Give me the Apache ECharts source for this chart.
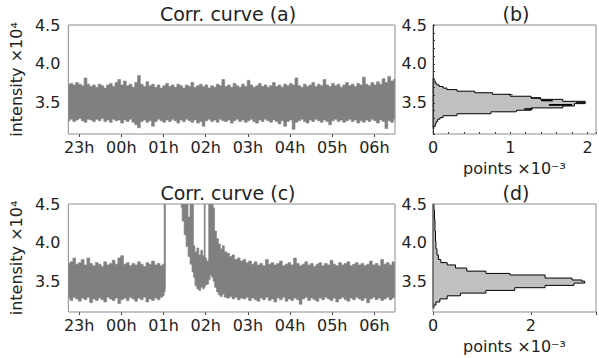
<!DOCTYPE html>
<html><head><meta charset="utf-8">
<script src="https://cdn.jsdelivr.net/npm/echarts@6.0.0/dist/echarts.min.js"></script>
<style>html,body{margin:0;padding:0;background:#fff}#c{width:599px;height:358px}</style>
</head><body><div id="c"></div>
<script>
// ---- data (time in minutes after 22:00) ----
const hourTicks = [60,120,180,240,300,360,420,480];
const yTicks = [3.5,4.0,4.5];

// (a) envelope of the dense curve
const aTime = [45,49,53,57,61,65,69,73,77,81,85,89,93,97,101,105,109,113,117,121,125,129,133,137,141,145,149,153,157,161,165,169,173,177,181,185,189,193,197,201,205,209,213,217,221,225,229,233,237,241,245,249,253,257,261,265,269,273,277,281,285,289,293,297,301,305,309,313,317,321,325,329,333,337,341,345,349,353,357,361,365,369,373,377,381,385,389,393,397,401,405,409,413,417,421,425,429,433,437,441,445,449,453,457,461,465,469,473,477,481,485,489,493,497,501,505,509];
const aHi = [3.74,3.75,3.73,3.76,3.74,3.72,3.82,3.74,3.71,3.73,3.70,3.74,3.72,3.69,3.73,3.75,3.71,3.76,3.80,3.73,3.78,3.72,3.74,3.70,3.76,3.85,3.74,3.71,3.77,3.72,3.74,3.70,3.73,3.69,3.72,3.75,3.71,3.73,3.70,3.74,3.72,3.69,3.73,3.71,3.76,3.70,3.72,3.74,3.71,3.73,3.69,3.72,3.70,3.74,3.72,3.80,3.71,3.73,3.70,3.75,3.72,3.70,3.74,3.71,3.79,3.73,3.70,3.72,3.75,3.71,3.73,3.70,3.72,3.76,3.71,3.73,3.70,3.74,3.72,3.75,3.73,3.82,3.72,3.70,3.74,3.71,3.73,3.76,3.71,3.74,3.72,3.80,3.73,3.71,3.75,3.72,3.74,3.70,3.73,3.76,3.72,3.74,3.71,3.75,3.73,3.83,3.74,3.72,3.76,3.73,3.77,3.74,3.81,3.76,3.84,3.78,3.80];
const aLo = [3.27,3.29,3.26,3.28,3.30,3.27,3.25,3.29,3.28,3.26,3.29,3.27,3.30,3.26,3.28,3.25,3.29,3.27,3.28,3.24,3.28,3.26,3.29,3.25,3.22,3.18,3.26,3.28,3.25,3.27,3.20,3.26,3.29,3.27,3.25,3.28,3.26,3.29,3.27,3.24,3.28,3.26,3.29,3.27,3.25,3.28,3.24,3.26,3.20,3.27,3.29,3.26,3.28,3.25,3.29,3.27,3.26,3.28,3.24,3.27,3.29,3.26,3.28,3.25,3.27,3.29,3.26,3.24,3.28,3.26,3.29,3.27,3.25,3.28,3.26,3.23,3.27,3.20,3.26,3.28,3.16,3.25,3.27,3.29,3.26,3.24,3.28,3.26,3.29,3.27,3.25,3.28,3.26,3.22,3.27,3.29,3.26,3.28,3.25,3.27,3.29,3.26,3.28,3.24,3.27,3.25,3.28,3.26,3.29,3.27,3.24,3.28,3.26,3.17,3.27,3.25,3.29];

// (c) first stretch, up to the jump just after 01h
const c1Time = [45,49,53,57,61,65,69,73,77,81,85,89,93,97,101,105,109,113,117,121,125,129,133,137,141,145,149,153,157,161,165,169,173,177,180,181.8,182.8];
const c1Hi = [3.73,3.75,3.80,3.72,3.74,3.78,3.71,3.80,3.73,3.70,3.74,3.72,3.69,3.75,3.71,3.73,3.77,3.72,3.80,3.83,3.72,3.74,3.70,3.73,3.71,3.75,3.72,3.69,3.74,3.72,3.76,3.71,3.73,3.70,3.72,4.70,4.70];
const c1Lo = [3.28,3.25,3.29,3.27,3.24,3.28,3.26,3.29,3.22,3.27,3.25,3.28,3.26,3.23,3.29,3.27,3.25,3.28,3.21,3.26,3.28,3.25,3.29,3.27,3.24,3.28,3.26,3.29,3.23,3.27,3.25,3.28,3.26,3.29,3.31,3.36,3.40];
// (c) second stretch, from the bursts to the end
const c2Time = [205.1,207.9,210.7,213.5,216.3,219.1,221.9,223.3,226.0,228.8,231.6,234.4,237.2,238.6,240.0,242.8,245.6,247.0,249.8,251.2,254.0,256.7,259.5,262.3,265.1,268.0,272.0,276.0,279.0,283.0,287.0,291.0,
  295,299,303,307,311,315,319,323,327,331,335,339,343,347,351,355,359,363,367,371,375,379,383,387,391,395,399,403,407,411,415,419,423,427,431,435,439,443,447,451,455,459,463,467,471,475,479,483,487,491,495,499,503,507,509];
const c2Hi = [4.70,4.70,4.70,4.70,4.33,4.70,4.70,3.96,3.88,3.93,3.84,3.90,3.83,4.70,3.80,3.76,4.70,4.70,4.70,4.45,4.15,4.05,3.98,3.92,3.96,3.88,3.86,3.82,3.84,3.78,3.80,3.76,
  3.78,3.74,3.76,3.72,3.75,3.71,3.73,3.70,3.78,3.72,3.74,3.71,3.73,3.76,3.70,3.72,3.74,3.71,3.80,3.73,3.70,3.72,3.75,3.71,3.73,3.69,3.72,3.74,3.70,3.73,3.71,3.77,3.72,3.70,3.74,3.71,3.73,3.75,3.70,3.72,3.74,3.71,3.73,3.70,3.72,3.76,3.71,3.73,3.70,3.78,3.72,3.74,3.71,3.75,3.74];
const c2Lo = [4.45,4.28,4.10,3.95,3.82,3.72,3.62,3.55,3.44,3.40,3.38,3.42,3.40,3.42,3.45,3.46,3.52,3.58,3.55,3.50,3.42,3.36,3.32,3.30,3.33,3.29,3.28,3.30,3.27,3.29,3.26,3.28,
  3.27,3.29,3.25,3.28,3.26,3.24,3.28,3.26,3.29,3.25,3.27,3.23,3.28,3.26,3.29,3.24,3.27,3.25,3.28,3.26,3.20,3.27,3.29,3.25,3.28,3.26,3.24,3.28,3.26,3.29,3.27,3.25,3.28,3.23,3.27,3.29,3.26,3.24,3.28,3.26,3.29,3.27,3.25,3.28,3.22,3.27,3.29,3.26,3.28,3.25,3.27,3.29,3.26,3.28,3.30];

// histograms (intensity bin edges, counts x10^-3)
const bEdges = [3.17,3.20,3.23,3.26,3.29,3.31,3.335,3.36,3.385,3.405,3.435,3.46,3.49,3.52,3.545,3.56,3.585,3.61,3.63,3.65,3.67,3.69,3.71,3.73,3.75,3.78,3.82];
const bCounts = [0.01,0.03,0.04,0.06,0.09,0.13,0.31,0.75,1.08,1.27,1.68,1.83,1.97,1.68,1.39,1.27,1.00,0.77,0.54,0.31,0.18,0.13,0.08,0.05,0.03,0.01];
// dense (black) patches in (b): count from, count to, intensity from, intensity to
const bPatchX0 = [0.97,1.27,1.40,1.50,1.85,1.18];
const bPatchX1 = [1.03,1.40,1.55,1.80,1.97,1.29];
const bPatchY0 = [3.602,3.557,3.520,3.462,3.500,3.412];
const bPatchY1 = [3.612,3.572,3.540,3.485,3.512,3.432];

const dEdges = [3.15,3.19,3.23,3.27,3.31,3.345,3.38,3.415,3.445,3.475,3.50,3.515,3.54,3.58,3.60,3.63,3.67,3.71,3.74,3.78,3.84,3.92,4.02,4.15,4.30,4.42,4.50];
const dCounts = [0.02,0.06,0.14,0.29,0.56,1.08,1.67,2.29,2.88,3.10,3.04,2.84,2.29,1.57,1.08,0.69,0.46,0.29,0.16,0.11,0.08,0.06,0.05,0.04,0.03,0.02];

// ---- style ----
const FONT = 'DejaVu Sans';
const TXT = '#222222';
const SPINE = '#8c8c8c';
const BAND = '#808080';

const hourLabel = m => { const h = Math.round(22 + m / 60) % 24; return (h < 10 ? '0' : '') + h + 'h'; };
const lab = {fontFamily: FONT, fontSize: 16, color: TXT};

// band between lower and upper envelope, each sample held over its own time slot
function bandRender(t, hi, lo) {
  return function (params, api) {
    const n = Math.min(t.length, hi.length, lo.length);
    const L = i => i === 0 ? t[0] : (t[i - 1] + t[i]) / 2;
    const R = i => i === n - 1 ? t[n - 1] : (t[i] + t[i + 1]) / 2;
    const pts = [];
    for (let i = 0; i < n; i++) { pts.push(api.coord([L(i), hi[i]])); pts.push(api.coord([R(i), hi[i]])); }
    for (let i = n - 1; i >= 0; i--) { pts.push(api.coord([R(i), lo[i]])); pts.push(api.coord([L(i), lo[i]])); }
    return {type: 'polygon', shape: {points: pts}, style: {fill: BAND, stroke: BAND, lineWidth: 0.6}};
  };
}
function bandSeries(gi, t, hi, lo) {
  return {type: 'custom', xAxisIndex: gi, yAxisIndex: gi, data: [[t[0], lo[0]]], clip: true, z: 2, silent: true,
    renderItem: bandRender(t, hi, lo)};
}
function histPolygon(edges, counts) {
  return function (params, api) {
    const pts = [api.coord([0, edges[0]])];
    for (let i = 0; i < counts.length; i++) {
      pts.push(api.coord([counts[i], edges[i]]));
      pts.push(api.coord([counts[i], edges[i + 1]]));
    }
    pts.push(api.coord([0, edges[edges.length - 1]]));
    return {type: 'polygon', shape: {points: pts}, style: {fill: '#c0c0c0', stroke: '#000', lineWidth: 1}};
  };
}

function timeX(gi) {
  return {type: 'value', gridIndex: gi, min: 44.6, max: 509.3,
    axisLine: {show: false}, splitLine: {show: false},
    axisTick: {show: true, customValues: hourTicks, length: 3, lineStyle: {color: '#444'}},
    axisLabel: Object.assign({customValues: hourTicks, formatter: hourLabel, margin: 5}, lab)};
}
function intensY(gi, withName) {
  const o = {type: 'value', gridIndex: gi, min: 3.1, max: 4.5,
    axisLine: {show: false}, splitLine: {show: false}, axisTick: {show: false},
    axisLabel: Object.assign({customValues: yTicks, formatter: v => v.toFixed(1), margin: 8}, lab)};
  if (withName) Object.assign(o, {name: 'intensity ×10⁴', nameLocation: 'middle', nameRotate: 90, nameGap: 36, nameTextStyle: lab});
  return o;
}

const grids = [
  {left: 62, top: 25, width: 333, height: 109},
  {left: 433, top: 25, width: 170, height: 109},
  {left: 62, top: 204, width: 333, height: 108},
  {left: 433, top: 204, width: 170, height: 108}
].map(g => Object.assign(g, {show: true, z: 5, borderColor: SPINE, borderWidth: 1, backgroundColor: 'rgba(0,0,0,0)', containLabel: false}));

const option = {
  animation: false,
  backgroundColor: '#fff',
  grid: grids,
  xAxis: [
    timeX(0),
    {type: 'value', gridIndex: 1, min: 0, max: 2.11, interval: 0.2,
      axisLine: {show: false}, splitLine: {show: false},
      axisTick: {show: true, inside: true, length: 2, lineStyle: {color: '#333'}},
      axisLabel: Object.assign({formatter: v => Math.abs(v - Math.round(v)) < 1e-6 ? String(Math.round(v)) : '', margin: 5}, lab),
      name: 'points ×10⁻³', nameLocation: 'middle', nameGap: 26, nameTextStyle: lab},
    timeX(2),
    {type: 'value', gridIndex: 3, min: 0, max: 3.33, interval: 2,
      axisLine: {show: false}, splitLine: {show: false},
      axisTick: {show: true, length: 3, lineStyle: {color: '#444'}},
      axisLabel: Object.assign({formatter: v => Math.abs(v - Math.round(v)) < 1e-6 ? String(Math.round(v)) : '', margin: 5}, lab),
      name: 'points ×10⁻³', nameLocation: 'middle', nameGap: 26, nameTextStyle: lab}
  ],
  yAxis: [
    intensY(0, true),
    {type: 'value', gridIndex: 1, min: 3.1, max: 4.5, interval: 0.1, z: 6,
      axisLine: {show: true, lineStyle: {color: '#333', width: 1}}, splitLine: {show: false},
      axisTick: {show: true, inside: true, length: 2, lineStyle: {color: '#333'}},
      axisLabel: Object.assign({formatter: v => Math.abs(v * 2 - Math.round(v * 2)) < 1e-6 ? v.toFixed(1) : '', margin: 6}, lab)},
    intensY(2, true),
    Object.assign(intensY(3, false), {axisLabel: Object.assign({customValues: yTicks, formatter: v => v.toFixed(1), margin: 6}, lab)})
  ],
  graphic: [
    {type: 'text', x: 228, y: 14, style: {text: 'Corr. curve (a)', fontFamily: FONT, fontSize: 19, fill: TXT, align: 'center', verticalAlign: 'middle'}},
    {type: 'text', x: 516, y: 14, style: {text: '(b)', fontFamily: FONT, fontSize: 19, fill: TXT, align: 'center', verticalAlign: 'middle'}},
    {type: 'text', x: 228, y: 193, style: {text: 'Corr. curve (c)', fontFamily: FONT, fontSize: 19, fill: TXT, align: 'center', verticalAlign: 'middle'}},
    {type: 'text', x: 516, y: 193, style: {text: '(d)', fontFamily: FONT, fontSize: 19, fill: TXT, align: 'center', verticalAlign: 'middle'}}
  ],
  series: [
    bandSeries(0, aTime, aHi, aLo),
    bandSeries(2, c1Time, c1Hi, c1Lo),
    bandSeries(2, c2Time, c2Hi, c2Lo),
    {type: 'custom', xAxisIndex: 1, yAxisIndex: 1, data: [[0, 3.5]], renderItem: histPolygon(bEdges, bCounts), z: 2, silent: true},
    {type: 'custom', xAxisIndex: 1, yAxisIndex: 1, z: 3, silent: true,
      data: bPatchX0.map((x, i) => [x, bPatchX1[i], bPatchY0[i], bPatchY1[i]]),
      encode: {x: [0, 1], y: [2, 3]},
      renderItem: (params, api) => {
        const p0 = api.coord([api.value(0), api.value(3)]);
        const p1 = api.coord([api.value(1), api.value(2)]);
        return {type: 'rect', shape: {x: p0[0], y: p0[1], width: p1[0] - p0[0], height: p1[1] - p0[1]}, style: {fill: '#000'}};
      }},
    {type: 'custom', xAxisIndex: 3, yAxisIndex: 3, data: [[0, 3.5]], renderItem: histPolygon(dEdges, dCounts), z: 2, silent: true}
  ]
};
const chart = echarts.init(document.getElementById('c'), null, {renderer: 'svg'});
chart.setOption(option);
</script></body></html>
